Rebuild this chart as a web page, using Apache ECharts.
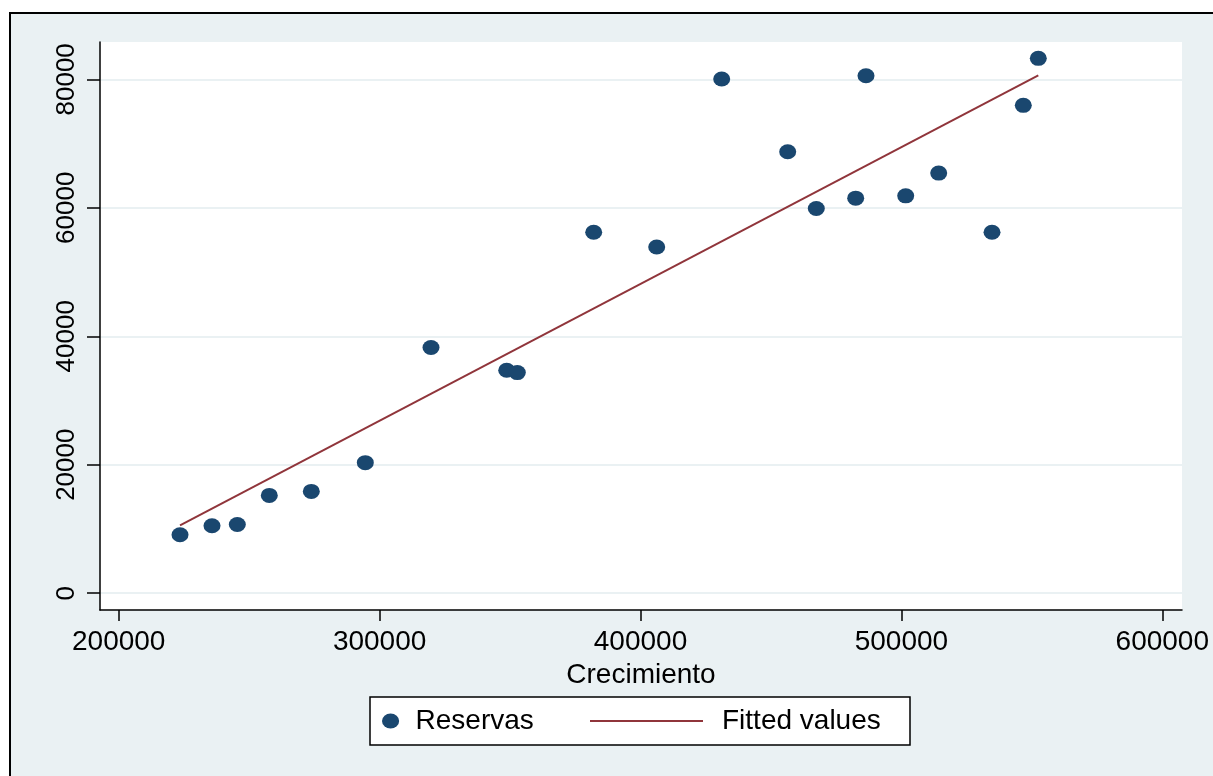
<!DOCTYPE html>
<html>
<head>
<meta charset="utf-8">
<script src="https://cdn.jsdelivr.net/npm/echarts@6/dist/echarts.min.js"></script>
<style>
html,body{margin:0;padding:0;background:#fff;}
#c{width:1213px;height:776px;}
</style>
</head>
<body>
<div id="c"></div>
<script>
// Data
const crecimiento = [223500, 235760, 245460, 257720, 273820, 294520, 319700, 348720, 352780, 382060, 406210, 431120, 456420, 467380, 482480, 486430, 501650, 514300, 534730, 546720, 552470];
const reservas    = [9100, 10500, 10700, 15220, 15850, 20320, 38240, 34700, 34340, 56200, 53900, 80050, 68720, 59900, 61500, 80560, 61860, 65400, 56200, 75950, 83270];
const fittedX = [223500, 552470];
const fittedY = [10550, 80620];
const xTicks = [200000, 300000, 400000, 500000, 600000];
const yTicks = [0, 20000, 40000, 60000, 80000];
const seriesNames = ['Reservas', 'Fitted values'];
const xTitle = 'Crecimiento';

const navy = '#1a476f';
const maroon = '#90353b';
const FONT = 'Liberation Sans, Arial, sans-serif';

const chart = echarts.init(document.getElementById('c'), null, {renderer: 'canvas'});
const scatterData = crecimiento.map((x, i) => [x, reservas[i]]);
const fitData = fittedX.map((x, i) => [x, fittedY[i]]);
const plain = v => String(v);

chart.setOption({
  animation: false,
  backgroundColor: '#ffffff',
  textStyle: {fontFamily: FONT},
  graphic: [
    {type: 'rect', z: -100, shape: {x: 10, y: 13, width: 1230, height: 800},
     style: {fill: '#eaf1f3', stroke: '#000', lineWidth: 2}},
    {type: 'rect', z: -50, shape: {x: 370, y: 697, width: 540, height: 48},
     style: {fill: '#ffffff', stroke: '#000', lineWidth: 1.5}}
  ],
  grid: {left: 100, top: 42, width: 1082, height: 568, show: true,
         backgroundColor: '#ffffff', borderWidth: 0},
  xAxis: {
    type: 'value', min: 192830, max: 607550,
    name: xTitle, nameLocation: 'middle', nameGap: 37,
    nameTextStyle: {fontSize: 28, color: '#000', fontFamily: FONT},
    axisLine: {show: true, onZero: false, lineStyle: {color: '#000', width: 1.5}},
    axisTick: {show: true, customValues: xTicks, length: 11, lineStyle: {color: '#000', width: 1.5}},
    axisLabel: {customValues: xTicks, formatter: plain, fontSize: 28, color: '#000', margin: 18, fontFamily: FONT},
    splitLine: {show: false}
  },
  yAxis: {
    type: 'value', min: -2618, max: 85813,
    axisLine: {show: true, onZero: false, lineStyle: {color: '#000', width: 1.5}},
    axisTick: {show: true, customValues: yTicks, length: 13, lineStyle: {color: '#000', width: 1.5}},
    axisLabel: {customValues: yTicks, formatter: plain, fontSize: 26, color: '#000', rotate: 90, margin: 20, fontFamily: FONT},
    splitLine: {show: true, lineStyle: {color: '#eaf1f3', width: 2}}
  },
  legend: [
    {data: [{name: seriesNames[0], icon: 'path://M0,7a8,7 0 1,0 16,0a8,7 0 1,0 -16,0z'}],
     left: 382, top: 706, padding: 0, itemWidth: 40, itemHeight: 15, symbolKeepAspect: true,
     textStyle: {fontSize: 28, color: '#000', lineHeight: 30, fontFamily: FONT}},
    {data: [{name: seriesNames[1], icon: 'rect'}], left: 590, top: 706, padding: 0, itemWidth: 113, itemHeight: 2,
     itemStyle: {color: maroon},
     textStyle: {fontSize: 28, color: '#000', lineHeight: 30, fontFamily: FONT, padding: [0, 0, 0, 14]}}
  ],
  series: [
    {name: seriesNames[0], type: 'scatter', data: scatterData, symbol: 'circle',
     symbolSize: [17, 15], itemStyle: {color: navy, opacity: 1}, z: 3},
    {name: seriesNames[1], type: 'line', data: fitData, symbol: 'none',
     lineStyle: {color: maroon, width: 2}, itemStyle: {color: maroon}, z: 2}
  ]
});
</script>
</body>
</html>
